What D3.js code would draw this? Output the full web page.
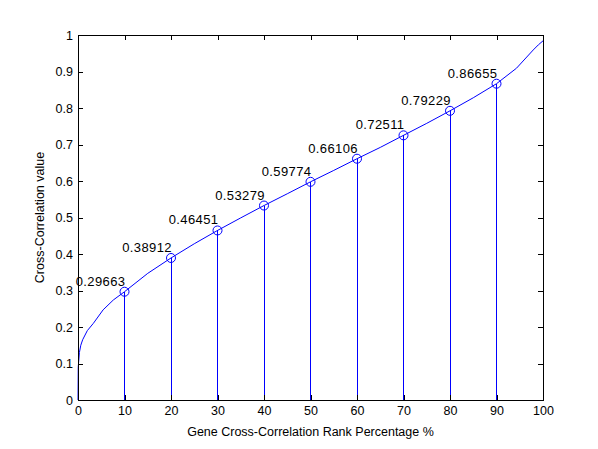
<!DOCTYPE html>
<html>
<head>
<meta charset="utf-8">
<script src="https://cdn.jsdelivr.net/npm/d3@7"></script>
<style>
body{margin:0;background:#fff}
text{font-family:Arial,"Liberation Sans",sans-serif;fill:#000}
</style>
</head>
<body>
<script>
// rank percentage samples along the curve
const curveX = [0, 0.05, 0.3, 0.6, 1, 2, 3.3, 5.4, 7.6, 10, 15, 20, 25, 30, 35, 40, 45, 50, 55, 60, 65, 70, 75, 80, 85, 90, 94.3, 97.9, 99, 100]
const curveY = [0, 0.09, 0.13, 0.15, 0.165, 0.19, 0.21, 0.247, 0.274, 0.29663, 0.347, 0.38912, 0.428, 0.46451, 0.499, 0.53279, 0.565, 0.59774, 0.629, 0.66106, 0.692, 0.72511, 0.758, 0.79229, 0.828, 0.86655, 0.909, 0.959, 0.973, 0.984]

// marked points
const stemX = [10, 20, 30, 40, 50, 60, 70, 80, 90]
const stemY = [0.29663, 0.38912, 0.46451, 0.53279, 0.59774, 0.66106, 0.72511, 0.79229, 0.86655]

const xTicks = [0, 10, 20, 30, 40, 50, 60, 70, 80, 90, 100]
const yTicks = [0, 0.1, 0.2, 0.3, 0.4, 0.5, 0.6, 0.7, 0.8, 0.9, 1]

window.onload = ()=>{
    init()
}

function init(){
    const W = 598, H = 449
    const left = 78, right = 543, top = 35, bottom = 400
    const blue = "#0000ff"

    const svg = d3.select("body").append("svg")
        .attr("width", W).attr("height", H)

    svg.append("rect").attr("width", W).attr("height", H).attr("fill", "#fff")

    const x = d3.scaleLinear().domain([0, 100]).range([left, right])
    const y = d3.scaleLinear().domain([0, 1]).range([bottom, top])

    // stems
    svg.append("g").selectAll("line")
        .data(stemX)
        .enter().append("line")
        .attr("x1", d=>x(d)).attr("x2", d=>x(d))
        .attr("y1", y(0)).attr("y2", (d,i)=>y(stemY[i]))
        .attr("stroke", blue).attr("stroke-width", 1)
        .attr("shape-rendering", "crispEdges")

    // curve
    const pts = curveX.map((d,i)=>[d, curveY[i]])
    svg.append("path")
        .datum(pts)
        .attr("d", d3.line().x(d=>x(d[0])).y(d=>y(d[1])))
        .attr("fill", "none").attr("stroke", blue).attr("stroke-width", 1)

    // markers
    svg.append("g").selectAll("circle")
        .data(stemX)
        .enter().append("circle")
        .attr("cx", d=>x(d)).attr("cy", (d,i)=>y(stemY[i]))
        .attr("r", 4.5)
        .attr("fill", "none").attr("stroke", blue).attr("stroke-width", 1)

    svg.append("g").selectAll("text")
        .data(stemX)
        .enter().append("text")
        .attr("x", d=>x(d) + 1).attr("y", (d,i)=>y(stemY[i]) - 6)
        .attr("text-anchor", "end")
        .style("font-size", "13px")
        .style("letter-spacing", "0.4px")
        .text((d,i)=>stemY[i])

    // axes (ticks inside, mirrored on top/right)
    const tk = 5
    const axB = svg.append("g").attr("transform", `translate(0,${bottom})`)
        .call(d3.axisBottom(x).tickValues(xTicks).tickSize(-tk).tickPadding(6).tickFormat(d3.format("d")))
    const axT = svg.append("g").attr("transform", `translate(0,${top})`)
        .call(d3.axisTop(x).tickValues(xTicks).tickSize(-tk).tickFormat(""))
    const axL = svg.append("g").attr("transform", `translate(${left},0)`)
        .call(d3.axisLeft(y).tickValues(yTicks).tickSize(-tk).tickPadding(5).tickFormat(d=>d3.format("")(d)))
    const axR = svg.append("g").attr("transform", `translate(${right},0)`)
        .call(d3.axisRight(y).tickValues(yTicks).tickSize(-tk).tickFormat(""))

    ;[axB, axT, axL, axR].forEach(a=>{
        a.select(".domain").attr("stroke", "#000").attr("stroke-width", 1).attr("shape-rendering", "crispEdges")
        a.selectAll(".tick line").attr("stroke", "#000").attr("shape-rendering", "crispEdges")
        a.selectAll("text").style("font-size", "12.5px").attr("fill", "#000")
    })

    svg.append("text")
        .attr("x", (left + right) / 2).attr("y", 436)
        .attr("text-anchor", "middle")
        .style("font-size", "12.5px")
        .text("Gene Cross-Correlation Rank Percentage %")

    svg.append("text")
        .attr("transform", `translate(44,${(top + bottom) / 2}) rotate(-90)`)
        .attr("text-anchor", "middle")
        .style("font-size", "12.5px")
        .text("Cross-Correlation value")
}
</script>
</body>
</html>
